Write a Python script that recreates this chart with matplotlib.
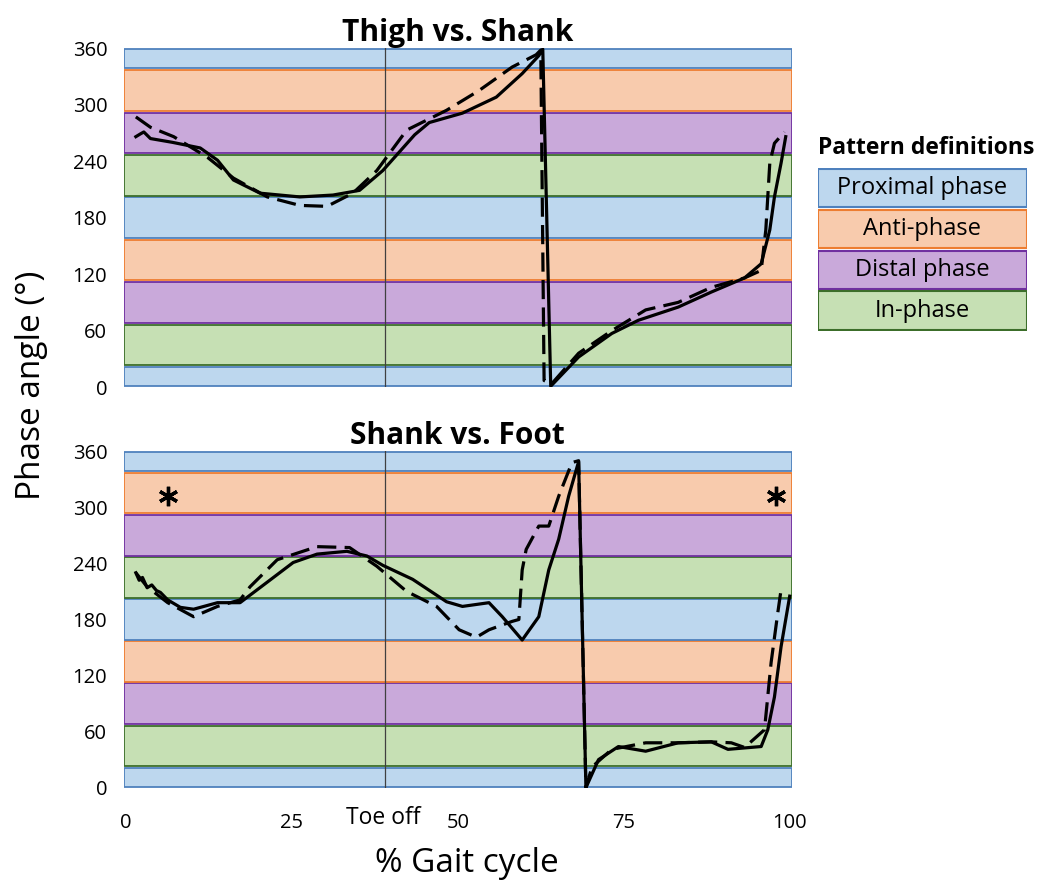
import matplotlib
matplotlib.use("Agg")
from matplotlib import pyplot as plt
from matplotlib.patches import Rectangle

plt.rcParams["font.family"] = ["Open Sans", "DejaVu Sans"]

# Pattern bands (degrees), bottom to top
band_edges = [0, 22.5, 67.5, 112.5, 157.5, 202.5, 247.5, 292.5, 337.5, 360]
band_kinds = ["prox", "in", "distal", "anti", "prox", "in", "distal", "anti", "prox"]
band_fill = {"prox": "#bdd7ee", "anti": "#f8cbad", "distal": "#c9a9da", "in": "#c6e0b4"}
band_edge = {"prox": "#4f81bd", "anti": "#ed7d31", "distal": "#7030a0", "in": "#3c6e2a"}

legend_labels = ["Proximal phase", "Anti-phase", "Distal phase", "In-phase"]
legend_kinds = ["prox", "anti", "distal", "in"]

toe_off = 39
x_ticks = [0, 25, 50, 75, 100]
x_tick_labels = ["0", "25", "50", "75", "100"]
y_ticks = [0, 60, 120, 180, 240, 300, 360]

# Thigh vs. Shank
ts_solid_x = [1.5, 2.2, 2.7, 3.7, 7.0, 11.2, 13.8, 16.2, 20.2, 26.2, 31.2, 35.2, 38.7,
              43.5, 45.7, 50.7, 55.8, 59.7, 62.2, 62.8, 64.0, 68.2, 73.2, 77.2, 83.2,
              88.2, 93.2, 95.7, 97.0, 97.7, 98.7, 99.4]
ts_solid_y = [266, 269, 271, 264, 260, 254, 241, 220, 206, 202, 204, 209, 230,
              268, 281, 291, 308, 333, 352, 359, 1, 32, 57, 71, 85,
              101, 116, 131, 167, 202, 238, 266]
ts_dash_x = [1.5, 3.7, 7.2, 12.3, 16.2, 21.3, 26.2, 30.3, 34.2, 37.8, 42.3, 48.3, 53.2,
             58.2, 61.8, 62.5, 63.0, 64.2, 68.2, 73.2, 78.3, 83.2, 88.2, 93.2, 95.7,
             96.4, 97.0, 97.7, 99.2]
ts_dash_y = [287, 276, 266, 244, 222, 202, 193, 192, 206, 230, 273, 294, 315,
             340, 353, 358, 7, 4, 36, 60, 82, 90, 106, 116, 124,
             167, 238, 259, 271]

# Shank vs. Foot
sf_solid_x = [1.5, 2.0, 2.5, 3.2, 3.9, 4.6, 5.2, 6.3, 8.2, 10.2, 13.8, 17.2, 21.3, 25.2,
              28.8, 33.3, 36.3, 38.7, 43.2, 48.3, 50.7, 54.7, 56.7, 59.7, 62.2, 63.7,
              65.2, 66.7, 68.2, 69.3, 71.2, 74.2, 78.3, 83.2, 88.2, 90.7, 95.7, 96.7,
              97.7, 98.7, 100]
sf_solid_y = [230, 222, 225, 214, 217, 211, 209, 201, 193, 191, 198, 198, 220, 241,
              250, 253, 248, 238, 223, 199, 194, 198, 183, 158, 183, 233,
              266, 312, 349, 0, 30, 44, 39, 48, 49, 41, 44, 62,
              97, 151, 205]
sf_dash_x = [1.5, 3.2, 6.3, 10.2, 13.8, 17.2, 18.7, 22.8, 28.8, 33.7, 37.8, 42.3, 46.8,
             50.2, 52.8, 54.7, 58.2, 59.2, 59.7, 60.3, 62.2, 63.7, 65.2, 67.2, 68.2,
             69.3, 70.2, 73.2, 78.3, 83.2, 88.2, 91.2, 93.2, 96.2, 97.2, 98.2, 98.7]
sf_dash_y = [230, 215, 198, 183, 194, 201, 215, 244, 258, 257, 237, 210, 194,
             169, 161, 169, 178, 180, 233, 255, 280, 280, 312, 348, 350,
             0, 22, 41, 48, 48, 49, 48, 43, 62, 134, 187, 212]

star_x = [6.4, 97.9]
star_y = [312, 312]


def draw_bands(ax):
    for lo, hi, kind in zip(band_edges[:-1], band_edges[1:], band_kinds):
        ax.axhspan(lo + 1.0, hi - 1.0, facecolor=band_fill[kind],
                   edgecolor=band_edge[kind], linewidth=1.3, zorder=0)
    ax.axvline(toe_off, color="#404040", linewidth=0.9, zorder=1)
    ax.set_xlim(-0.3, 100.3)
    ax.set_ylim(0, 360)
    ax.set_yticks(y_ticks)
    ax.tick_params(axis="y", length=0, pad=12, labelsize=14.5)
    for s in ax.spines.values():
        s.set_visible(False)


fig = plt.figure(figsize=(10.5, 8.92), dpi=100)
ax_top = fig.add_axes([0.118, 0.566, 0.636, 0.380])
ax_bot = fig.add_axes([0.118, 0.117, 0.636, 0.377])

for ax in (ax_top, ax_bot):
    draw_bands(ax)

lw = 2.3
ax_top.plot(ts_dash_x, ts_dash_y, color="black", lw=lw, dashes=(6, 2.6), zorder=3)
ax_top.plot(ts_solid_x, ts_solid_y, color="black", lw=lw, zorder=4)
ax_top.set_xticks([])
ax_top.set_title("Thigh vs. Shank", fontsize=21.5, fontweight="bold", pad=5)

ax_bot.plot(sf_dash_x, sf_dash_y, color="black", lw=lw, dashes=(6, 2.6), zorder=3)
ax_bot.plot(sf_solid_x, sf_solid_y, color="black", lw=lw, zorder=4)
ax_bot.plot(star_x, star_y, linestyle="none", marker=(6, 2, 0), markersize=14,
            markeredgewidth=2.4, color="black", zorder=5)
ax_bot.set_xticks(x_ticks)
ax_bot.set_xticklabels(x_tick_labels)
ax_bot.tick_params(axis="x", length=0, pad=18, labelsize=14.5)
ax_bot.set_title("Shank vs. Foot", fontsize=21.5, fontweight="bold", pad=5)
ax_bot.annotate("Toe off", xy=(toe_off - 0.2, 0), xycoords="data",
                xytext=(0, -30), textcoords="offset pixels",
                ha="center", va="center", fontsize=16.5)

fig.text(0.030, 0.568, "Phase angle (°)", rotation=90, fontsize=24,
         ha="center", va="center")
fig.text(0.445, 0.032, "% Gait cycle", fontsize=24, ha="center", va="center")

# Legend panel
fig.text(0.779, 0.834, "Pattern definitions", fontsize=16.5, fontweight="bold",
         ha="left", va="center")
ax_leg = fig.add_axes([0.779, 0.629, 0.199, 0.183])
ax_leg.set_xlim(0, 1)
ax_leg.set_ylim(0, 4)
ax_leg.axis("off")
for i, (label, kind) in enumerate(zip(legend_labels, legend_kinds)):
    y0 = 3 - i
    ax_leg.add_patch(Rectangle((0, y0 + 0.03), 1, 0.94, facecolor=band_fill[kind],
                               edgecolor=band_edge[kind], linewidth=1.5))
    ax_leg.text(0.5, y0 + 0.5, label, ha="center", va="center", fontsize=17)

fig.savefig("out.png", dpi=100)
